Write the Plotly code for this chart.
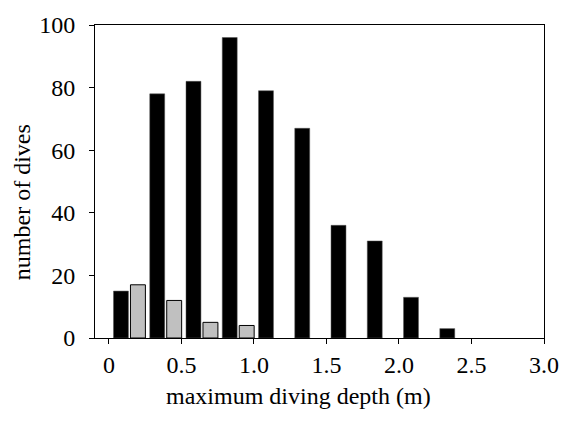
import plotly.graph_objects as go

# bin centres (m) and counts
black_x = [0.083, 0.333, 0.583, 0.833, 1.083, 1.333, 1.583, 1.833, 2.083, 2.333]
black_y = [15, 78, 82, 96, 79, 67, 36, 31, 13, 3]
grey_x = [0.2, 0.45, 0.7, 0.95]
grey_y = [17, 12, 5, 4]
x_ticks = [0, 0.5, 1.0, 1.5, 2.0, 2.5, 3.0]
x_tick_text = ["0", "0.5", "1.0", "1.5", "2.0", "2.5", "3.0"]
y_ticks = [0, 20, 40, 60, 80, 100]
x_title = "maximum diving depth (m)"
y_title = "number of dives"

fig = go.Figure()
fig.add_trace(go.Bar(x=black_x, y=black_y, width=0.103,
                     marker=dict(color="black", line=dict(color="#555555", width=0.5)),
                     showlegend=False, hoverinfo="skip"))
fig.add_trace(go.Bar(x=grey_x, y=grey_y, width=0.103,
                     marker=dict(color="#c0c0c0", line=dict(color="black", width=1)),
                     showlegend=False, hoverinfo="skip"))

font = dict(family="Liberation Serif, Times New Roman, serif", size=24, color="black")

fig.update_layout(
    width=571, height=421,
    margin=dict(l=95, r=24, t=21, b=83),
    paper_bgcolor="white", plot_bgcolor="white",
    font=font, barmode="overlay",
    xaxis=dict(range=[-0.096, 3.0], tickvals=x_ticks, ticktext=x_tick_text,
               ticks="outside", ticklen=5, tickcolor="black", tickwidth=1,
               showline=True, linecolor="black", linewidth=1, mirror=True,
               showgrid=False, zeroline=False),
    yaxis=dict(range=[0, 100], tickvals=y_ticks,
               ticks="outside", ticklen=5, tickcolor="black", tickwidth=1,
               ticklabelstandoff=9,
               showline=True, linecolor="black", linewidth=1, mirror=True,
               showgrid=False, zeroline=False),
    annotations=[
        dict(text=x_title, xref="paper", yref="paper", x=0.4535, y=0,
             xanchor="center", yanchor="middle", yshift=-58,
             showarrow=False, font=font),
        dict(text=y_title, xref="paper", yref="paper", x=0, y=0.434,
             xanchor="center", yanchor="middle", xshift=-73, textangle=-90,
             showarrow=False, font=font),
    ],
)
# remove the default 8px page margin so figure pixels equal page pixels
fig.write_html("out.html", config={"displayModeBar": False},
               post_script="document.body.style.margin='0';")
